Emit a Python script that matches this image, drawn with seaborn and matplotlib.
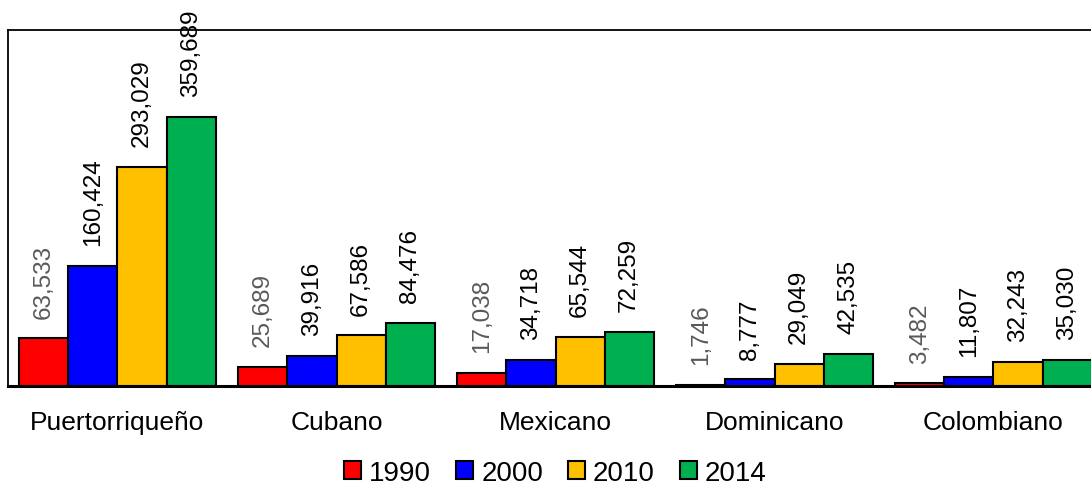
import matplotlib
matplotlib.use("Agg")
import matplotlib.pyplot as plt
import seaborn as sns
import pandas as pd

# values
categories = ["Puertorriqueño", "Cubano", "Mexicano", "Dominicano", "Colombiano"]
years = ["1990", "2000", "2010", "2014"]
v1990 = [63533, 25689, 17038, 1746, 3482]
v2000 = [160424, 39916, 34718, 8777, 11807]
v2010 = [293029, 67586, 65544, 29049, 32243]
v2014 = [359689, 84476, 72259, 42535, 35030]

colors = ["#FF0000", "#0000FF", "#FFC000", "#00B050"]
label_colors = ["#595959", "black", "black", "black"]

rows = []
for yr, vals in zip(years, [v1990, v2000, v2010, v2014]):
    for cat, v in zip(categories, vals):
        rows.append({"grupo": cat, "year": yr, "value": v})
df = pd.DataFrame(rows)

sns.set_style("white")
plt.rcParams['font.family'] = ['Liberation Sans', 'DejaVu Sans']
plt.rcParams['text.color'] = 'black'
plt.rcParams['xtick.color'] = 'black'

fig = plt.figure(figsize=(10.91, 4.89), dpi=100)
ax = fig.add_axes([8 / 1091, 102 / 489, 1095 / 1091, 356 / 489])

sns.barplot(data=df, x="grupo", y="value", hue="year", order=categories,
            hue_order=years, palette=colors, width=0.895, gap=0,
            edgecolor="black", linewidth=1.5, saturation=1, ax=ax)

for cont, lc in zip(ax.containers, label_colors):
    ax.bar_label(cont, labels=[f"{b.get_height():,.0f}" for b in cont],
                 rotation=90, padding=15, fontsize=17.5, color=lc)

ax.set_xlim(-0.5, 4.5)
ax.set_ylim(0, 476000)
ax.set_xlabel("")
ax.set_ylabel("")
ax.set_yticks([])
ax.tick_params(axis="x", length=0, pad=17, labelsize=19, labelcolor="black")

for s in ["left", "top", "right"]:
    ax.spines[s].set_color("black")
    ax.spines[s].set_linewidth(1.3)
ax.spines["bottom"].set_color("black")
ax.spines["bottom"].set_linewidth(2.2)

leg = ax.legend(loc="center", bbox_to_anchor=(0.5, -0.243), ncol=4, frameon=False,
                fontsize=20, handlelength=0.6, handleheight=0.6, handletextpad=0.3,
                columnspacing=0.9, borderaxespad=0)
for t in leg.get_texts():
    t.set_color("black")

fig.savefig("out.png", dpi=100)
